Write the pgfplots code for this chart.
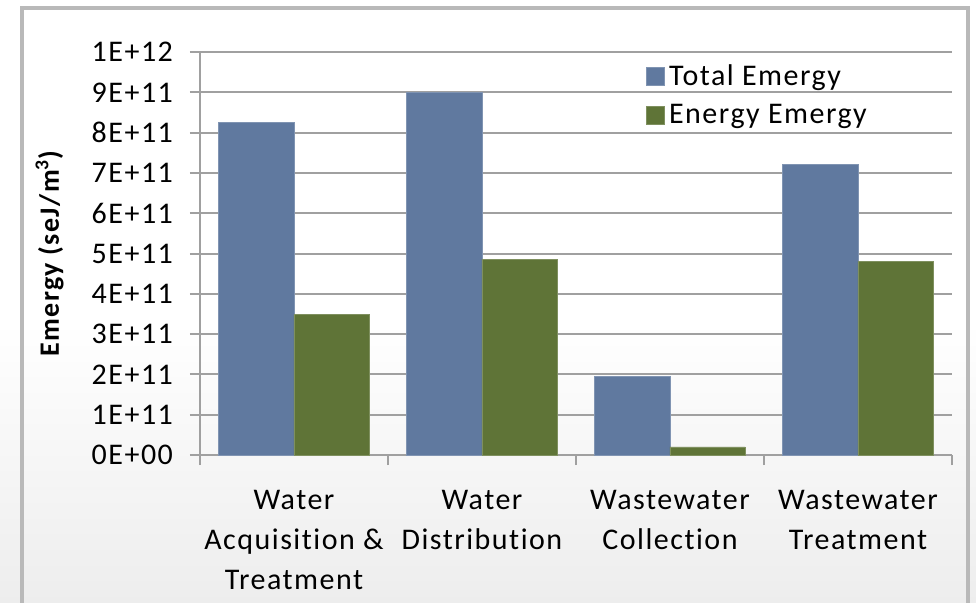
\documentclass[border=0pt]{standalone}
\usepackage{pgfplots}
\pgfplotsset{compat=1.18}
\usepackage{fontspec}
\setmainfont{Carlito}[LetterSpace=5, Ligatures=NoCommon]

\definecolor{totalblue}{HTML}{60799F}
\definecolor{energygreen}{HTML}{5F7437}
\definecolor{gridgray}{HTML}{A0A0A0}

\pgfplotstableread{
cat total energy
0 8.25e11 3.48e11
1 9.00e11 4.86e11
2 1.96e11 0.20e11
3 7.20e11 4.80e11
}\emergydata

\begin{document}
\begin{tikzpicture}
  % page area and background
  \clip (0,0) rectangle (488pt,301pt);
  \fill[white] (0,0) rectangle (488pt,301pt);
  \shade[top color=white, bottom color=gray!14] (0,0) rectangle (488pt,140pt);
  \draw[gray!55, line width=2pt] (11pt,-5pt) -- (11pt,297pt) -- (484pt,297pt) -- (484pt,-5pt);

  \begin{axis}[
    at={(100pt,73.5pt)}, anchor=south west,
    scale only axis,
    width=376pt, height=201.5pt,
    ybar=0pt, bar width=37.6pt,
    xmin=-0.5, xmax=3.5,
    ymin=0, ymax=1e12,
    scaled y ticks=false,
    axis lines*=left,
    axis line style={gridgray, line width=1pt},
    tick align=outside,
    xtick={0,1,2,3},
    xticklabels={{Water\\Acquisition \&\\Treatment},{Water\\Distribution},{Wastewater\\Collection},{Wastewater\\Treatment}},
    major x tick style={draw=none},
    minor xtick={-0.5,0.5,1.5,2.5,3.5},
    minor x tick style={gridgray, line width=1pt},
    minor tick length=5pt,
    xticklabel style={font=\fontsize{15}{20}\selectfont, align=center, yshift=-9pt, text=black},
    ytick={0,1e11,2e11,3e11,4e11,5e11,6e11,7e11,8e11,9e11,1e12},
    yticklabels={0E+00,1E+11,2E+11,3E+11,4E+11,5E+11,6E+11,7E+11,8E+11,9E+11,1E+12},
    yticklabel style={font=\fontsize{15}{16}\selectfont, xshift=-5pt, text=black},
    major tick length=5pt,
    major y tick style={gridgray, line width=1pt},
    ymajorgrids,
    major grid style={gridgray, line width=1pt},
    ylabel={\bfseries Emergy (seJ/m\textsuperscript{3})},
    ylabel style={font=\fontsize{14}{16}\selectfont, at={(axis description cs:-0.2,0.5)}, anchor=center, text=black},
    legend cell align=left,
    legend style={at={(0.585,0.99)}, anchor=north west, draw=none, fill=none,
      font=\fontsize{15}{16}\selectfont, row sep=4pt, text=black},
    legend image code/.code={\draw[#1] (0pt,-4.5pt) rectangle (9pt,4.5pt);},
  ]
    \addplot[fill=totalblue, draw=totalblue!80!white] table[x=cat, y=total] {\emergydata};
    \addlegendentry{Total Emergy}
    \addplot[fill=energygreen, draw=energygreen!80!white] table[x=cat, y=energy] {\emergydata};
    \addlegendentry{Energy Emergy}
  \end{axis}
\end{tikzpicture}
\end{document}
